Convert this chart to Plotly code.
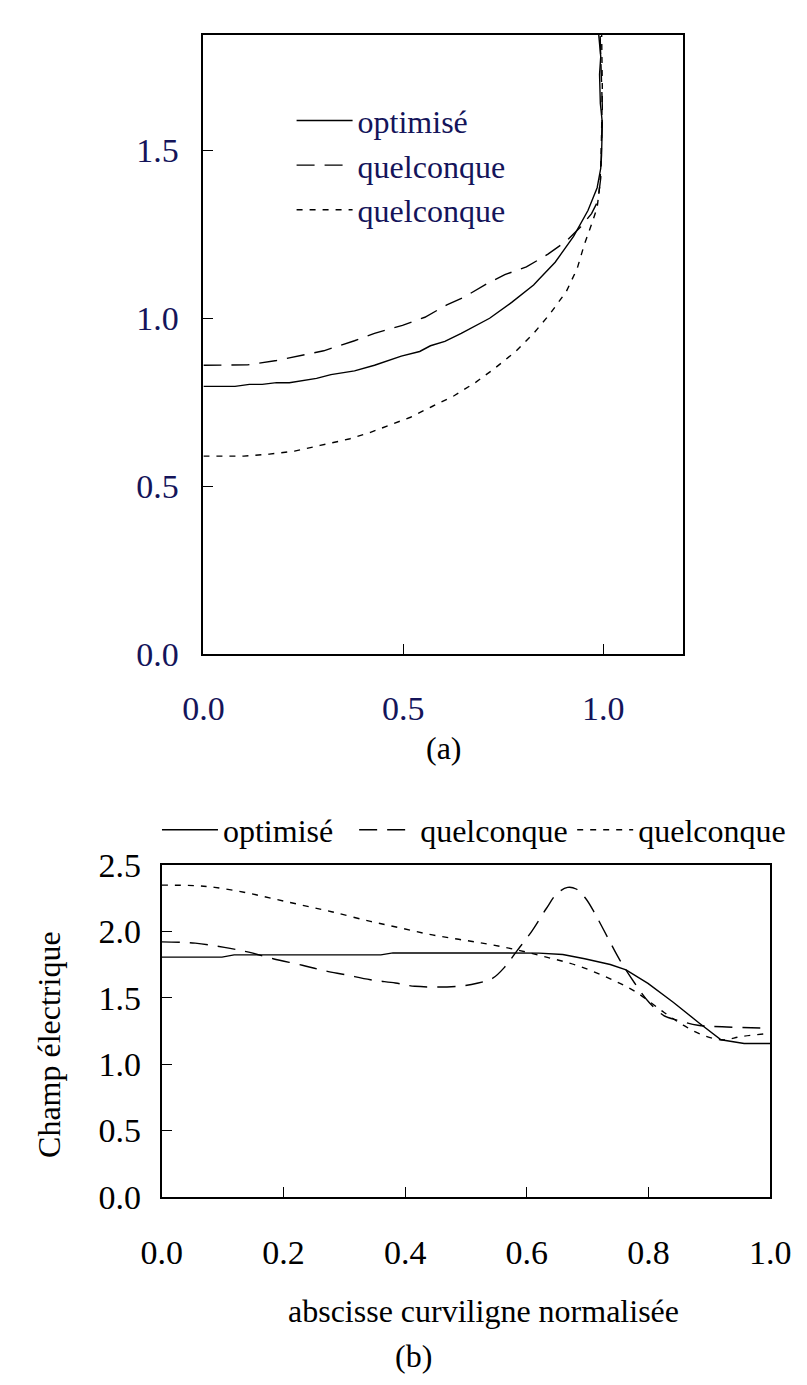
import plotly.graph_objects as go

# (a) profile curves
opt_a_x = [0.0, 0.079, 0.115, 0.147, 0.183, 0.215, 0.283, 0.319, 0.378, 0.428, 0.495, 0.541,
           0.568, 0.604, 0.645, 0.716, 0.772, 0.826, 0.840, 0.880, 0.926, 0.962, 0.985, 0.994,
           0.996, 0.998, 0.993, 0.991, 0.994, 0.987]
opt_a_y = [0.797, 0.797, 0.803, 0.803, 0.808, 0.808, 0.821, 0.832, 0.843, 0.860, 0.887, 0.901,
           0.918, 0.931, 0.955, 1.000, 1.048, 1.099, 1.117, 1.167, 1.244, 1.321, 1.389, 1.447,
           1.486, 1.582, 1.640, 1.727, 1.780, 1.870]
q1_a_x = [0.0, 0.043, 0.110, 0.183, 0.251, 0.301, 0.378, 0.428, 0.498, 0.554, 0.609, 0.649,
          0.708, 0.754, 0.808, 0.862, 0.908, 0.944, 0.971, 0.987, 0.994, 0.995, 0.998, 0.994, 0.992]
q1_a_y = [0.860, 0.860, 0.861, 0.874, 0.892, 0.903, 0.933, 0.955, 0.979, 1.003, 1.040, 1.061,
          1.102, 1.130, 1.153, 1.191, 1.230, 1.273, 1.312, 1.350, 1.418, 1.486, 1.630, 1.775, 1.870]
q2_a_x = [0.0, 0.101, 0.165, 0.228, 0.292, 0.364, 0.418, 0.473, 0.518, 0.572, 0.627, 0.681,
          0.726, 0.781, 0.826, 0.867, 0.908, 0.935, 0.953, 0.971, 0.985, 0.992, 0.995, 0.998, 0.996]
q2_a_y = [0.589, 0.589, 0.595, 0.604, 0.621, 0.640, 0.660, 0.684, 0.705, 0.737, 0.769, 0.809,
          0.848, 0.901, 0.955, 1.013, 1.080, 1.148, 1.220, 1.280, 1.330, 1.400, 1.486, 1.679, 1.870]

# (b) electric field along the normalised curvilinear abscissa
opt_b_x = [0.0, 0.099, 0.119, 0.360, 0.380, 0.561, 0.620, 0.659, 0.695, 0.737, 0.763, 0.799,
           0.841, 0.883, 0.919, 0.957, 1.0]
opt_b_y = [1.806, 1.806, 1.823, 1.823, 1.838, 1.838, 1.836, 1.826, 1.794, 1.750, 1.710, 1.608,
           1.464, 1.310, 1.183, 1.155, 1.155]
q1_b_x = [0.0, 0.055, 0.103, 0.143, 0.183, 0.231, 0.263, 0.303, 0.343, 0.384, 0.416, 0.488,
          0.520, 0.544, 0.564, 0.584, 0.608, 0.632, 0.649, 0.667, 0.681, 0.697, 0.713, 0.733,
          0.753, 0.777, 0.801, 0.825, 0.849, 0.881, 0.921, 1.0]
q1_b_y = [1.921, 1.911, 1.879, 1.843, 1.794, 1.745, 1.708, 1.672, 1.635, 1.611, 1.586, 1.586,
          1.611, 1.647, 1.733, 1.855, 2.000, 2.172, 2.282, 2.331, 2.319, 2.246, 2.124, 1.952,
          1.782, 1.611, 1.464, 1.366, 1.329, 1.293, 1.281, 1.270]
q2_b_x = [0.0, 0.055, 0.087, 0.135, 0.183, 0.231, 0.279, 0.343, 0.392, 0.440, 0.488, 0.536,
          0.584, 0.632, 0.681, 0.729, 0.777, 0.825, 0.857, 0.889, 0.921, 0.953, 1.0]
q2_b_y = [2.348, 2.344, 2.331, 2.295, 2.246, 2.197, 2.148, 2.075, 2.026, 1.977, 1.940, 1.904,
          1.860, 1.806, 1.745, 1.659, 1.549, 1.391, 1.293, 1.219, 1.183, 1.208, 1.232]

names = ['optimisé', 'quelconque', 'quelconque']
a_xticks = [0.0, 0.5, 1.0]
a_yticks = [0.0, 0.5, 1.0, 1.5]
b_xticks = [0.0, 0.2, 0.4, 0.6, 0.8, 1.0]
b_yticks = [0.0, 0.5, 1.0, 1.5, 2.0, 2.5]

W, H = 807, 1385
NAVY = '#14145a'
FONT = 'Liberation Serif'
TXT = 32     # legend / titles
TICK = 34    # tick labels
dashes = ['solid', '18px,10px', '6px,7px']

fig = go.Figure()

for (xs, ys), name, dash in zip([(opt_a_x, opt_a_y), (q1_a_x, q1_a_y), (q2_a_x, q2_a_y)], names, dashes):
    fig.add_trace(go.Scatter(x=xs, y=ys, mode='lines', name=name, xaxis='x', yaxis='y',
                             line=dict(color='black', width=1.4, dash=dash), legend='legend'))

# one legend per entry for (b) so the spacing follows the original
b_legends = ['legend2', 'legend3', 'legend4']
for (xs, ys), name, dash, lg in zip([(opt_b_x, opt_b_y), (q1_b_x, q1_b_y), (q2_b_x, q2_b_y)],
                                    names, dashes, b_legends):
    fig.add_trace(go.Scatter(x=xs, y=ys, mode='lines', name=name, xaxis='x2', yaxis='y2',
                             line=dict(color='black', width=1.4, dash=dash,
                                       shape='linear' if dash == 'solid' else 'spline'),
                             legend=lg))


def px(v):
    return v / W


def py(v):
    return 1 - v / H


axis_common = dict(showline=True, mirror=True, linecolor='black', ticks='inside', ticklen=10,
                   tickcolor='black', showgrid=False, zeroline=False, tickformat='.1f')
legend_common = dict(yanchor='middle', xanchor='left', bgcolor='rgba(0,0,0,0)', itemwidth=56,
                     font=dict(color='black', size=TXT, family=FONT))

fig.update_layout(
    width=W, height=H,
    margin=dict(l=0, r=0, t=0, b=0),
    paper_bgcolor='white', plot_bgcolor='white',
    font=dict(family=FONT, size=TXT, color='black'),
    xaxis=dict(axis_common, domain=[px(184), px(690)], range=[0, 1.2], tickvals=a_xticks,
               anchor='y', linewidth=1.5, ticklabelstandoff=24,
               tickfont=dict(color=NAVY, size=TICK)),
    yaxis=dict(axis_common, domain=[py(645), py(9)], range=[0, 1.845], tickvals=a_yticks,
               anchor='x', linewidth=1.5, ticklabelstandoff=16,
               tickfont=dict(color=NAVY, size=TICK)),
    xaxis2=dict(axis_common, domain=[px(140), px(782)], range=[0, 1.0], tickvals=b_xticks,
                anchor='y2', linewidth=2, ticklabelstandoff=24, tickfont=dict(size=TICK)),
    yaxis2=dict(axis_common, domain=[py(1203), py(862)], range=[0, 2.5], tickvals=b_yticks,
                anchor='x2', linewidth=2, ticklabelstandoff=12, tickfont=dict(size=TICK)),
    legend=dict(legend_common, x=px(277), y=py(143), tracegroupgap=0,
                font=dict(color=NAVY, size=TXT, family=FONT)),
    legend2=dict(legend_common, orientation='h', x=px(135), y=py(826)),
    legend3=dict(legend_common, orientation='h', x=px(343), y=py(826)),
    legend4=dict(legend_common, orientation='h', x=px(573), y=py(826)),
    annotations=[
        dict(text='(a)', x=px(438), y=py(742)),
        dict(text='abscisse curviligne normalisée', x=px(479), y=py(1320)),
        dict(text='(b)', x=px(406), y=py(1366)),
        dict(text='Champ électrique', x=px(21), y=py(1046), textangle=-90),
    ],
)
fig.update_annotations(xref='paper', yref='paper', xanchor='center', yanchor='middle',
                       showarrow=False)

fig.write_html('out.html')
